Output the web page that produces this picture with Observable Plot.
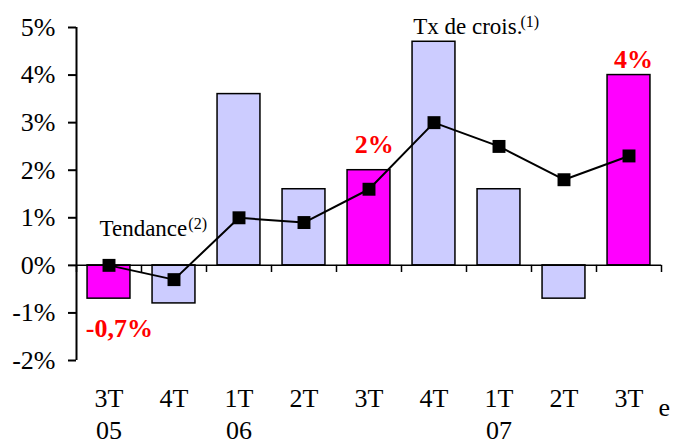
<!DOCTYPE html>
<html>
<head>
<meta charset="utf-8">
<script src="https://cdn.jsdelivr.net/npm/d3@7"></script>
<script src="https://cdn.jsdelivr.net/npm/@observablehq/plot@0.6"></script>
<style>
  html, body { margin: 0; padding: 0; background: #fff; }
  #chart svg, #chart svg text, #chart svg tspan {
    font-family: "Times New Roman", "Liberation Serif", serif !important;
    font-variant: normal !important;
    font-variant-numeric: normal !important;
  }
</style>
</head>
<body>
<div id="chart"></div>
<script>
const quarters = ["3T", "4T", "1T", "2T", "3T", "4T", "1T", "2T", "3T"];
const years = ["05", "", "06", "", "", "", "07", "", ""];
const growth = [-0.7, -0.8, 3.6, 1.6, 2.0, 4.7, 1.6, -0.7, 4.0];
const trend = [0, -0.3, 1.0, 0.9, 1.6, 3.0, 2.5, 1.8, 2.3];
const highlighted = [true, false, false, false, true, false, false, false, true];
const valueLabels = ["-0,7%", "", "", "", "2%", "", "", "", "4%"];
const yTicks = [-2, -1, 0, 1, 2, 3, 4, 5];

const rows = quarters.map((q, i) => ({
  i, q, year: years[i], growth: growth[i], trend: trend[i],
  hi: highlighted[i], label: valueLabels[i],
  cat: years[i] ? q + "\n" + years[i] : q
}));
const bounds = d3.range(0, quarters.length + 1);
const serif = "Times New Roman, Liberation Serif, serif";
const labelStyle = { text: "label", fill: "#ff0000", fontWeight: "bold", fontSize: 26, fontFamily: serif, fontVariant: "normal" };

const plot = Plot.plot({
  width: 674,
  height: 443,
  marginLeft: 76,
  marginRight: 13,
  marginTop: 27,
  marginBottom: 83,
  style: { fontFamily: serif, background: "#fff", overflow: "visible" },
  x: { domain: [0, quarters.length], axis: null },
  y: { domain: [-2, 5], axis: null },
  marks: [
    Plot.rectY(rows, {
      x1: d => d.i + 0.17, x2: d => d.i + 0.83, y1: 0, y2: "growth",
      fill: d => d.hi ? "#ff00ff" : "#ccccff", stroke: "#000", strokeWidth: 1.5
    }),
    Plot.ruleY([0], { stroke: "#000", strokeWidth: 1.5 }),
    Plot.ruleX(bounds, { y1: 0, y2: -0.15, stroke: "#000", strokeWidth: 1.5 }),
    Plot.ruleX([0], { y1: -2, y2: 5, stroke: "#000", strokeWidth: 2 }),
    Plot.axisY({
      ticks: yTicks, tickSize: 8, tickPadding: 13, tickFormat: d => d + "%",
      fontSize: 26, fontFamily: serif, fontVariant: "normal", stroke: "#000", strokeWidth: 2, fill: "#000"
    }),
    Plot.line(rows, { x: d => d.i + 0.5, y: "trend", stroke: "#000", strokeWidth: 2 }),
    Plot.dot(rows, { x: d => d.i + 0.5, y: "trend", symbol: "square", r: 7.3, fill: "#000", stroke: "none" }),
    Plot.text(rows.filter(d => d.label && d.growth < 0), {
      ...labelStyle, x: d => d.i + 0.66, y: "growth", lineAnchor: "top", dy: 20
    }),
    Plot.text(rows.filter(d => d.label && d.i === 4), {
      ...labelStyle, x: d => d.i + 0.58, y: "growth", lineAnchor: "bottom", dy: -17
    }),
    Plot.text(rows.filter(d => d.label && d.i === 8), {
      ...labelStyle, x: d => d.i + 0.57, y: "growth", lineAnchor: "bottom", dy: -7
    }),
    Plot.text(rows, {
      x: d => d.i + 0.5, frameAnchor: "bottom", text: "cat",
      lineAnchor: "top", dy: 23, lineHeight: 1.25,
      fontSize: 26, fontFamily: serif, fontVariant: "normal", fill: "#000"
    }),
    Plot.text(["e"], { frameAnchor: "bottom-right", textAnchor: "start", lineAnchor: "bottom", dx: -3, dy: 55, fontSize: 26, fontFamily: serif, fill: "#000" }),
    Plot.text(["Tendance"], { x: [0.354], y: [0.61], textAnchor: "start", lineAnchor: "bottom", fontSize: 23, fontFamily: serif, fill: "#000" }),
    Plot.text(["(2)"], { x: [1.72], y: [0.61], textAnchor: "start", lineAnchor: "bottom", dy: -7, fontSize: 16, fontFamily: serif, fill: "#000" }),
    Plot.text(["Tx de crois."], { x: [5.18], y: [4.87], textAnchor: "start", lineAnchor: "bottom", fontSize: 23, fontFamily: serif, fill: "#000" }),
    Plot.text(["(1)"], { x: [6.83], y: [4.87], textAnchor: "start", lineAnchor: "bottom", dy: -7, fontSize: 16, fontFamily: serif, fill: "#000" })
  ]
});
document.getElementById("chart").appendChild(plot);
</script>
</body>
</html>
